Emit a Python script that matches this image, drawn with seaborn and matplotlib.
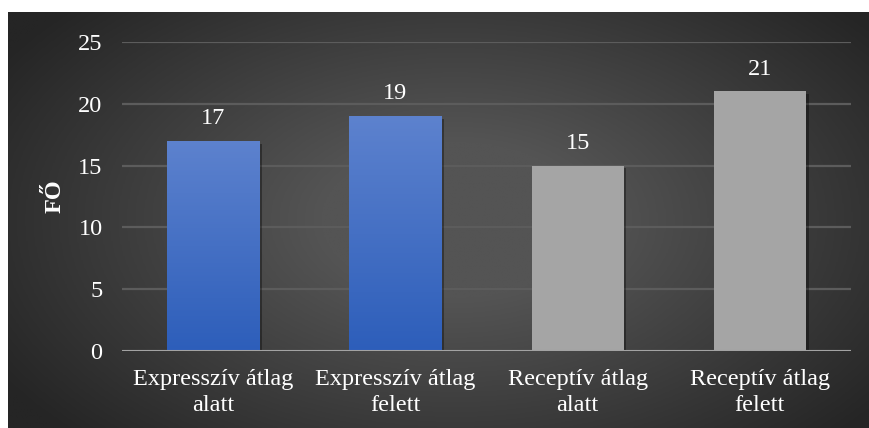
import numpy as np
import pandas as pd
import matplotlib
matplotlib.use("Agg")
import matplotlib.pyplot as plt
import matplotlib.patheffects as pe
from matplotlib.colors import LinearSegmentedColormap
import seaborn as sns

categories = ["Expresszív átlag\nalatt", "Expresszív átlag\nfelett",
              "Receptív átlag\nalatt", "Receptív átlag\nfelett"]
values = [17, 19, 15, 21]
groups = ["expr", "expr", "rec", "rec"]
y_ticks = [0, 5, 10, 15, 20, 25]
y_label = "FŐ"

sns.set_theme(style="white")
plt.rcParams["font.family"] = ["Liberation Serif", "DejaVu Serif"]

W, H = 869, 428
fig = plt.figure(figsize=(W / 100, H / 100), dpi=100)
fig.patch.set_facecolor("white")

# Dark radial-gradient backdrop
bg = fig.add_axes([8 / W, 0, (W - 8) / W, (H - 12) / H])
bg.set_axis_off()
yy, xx = np.mgrid[0:1:300j, 0:1:600j]
r = np.sqrt(((xx - 0.52) / 0.62) ** 2 + ((yy - 0.5) / 0.75) ** 2)
shade = np.clip(1 - r, 0, 1)
bg_cmap = LinearSegmentedColormap.from_list("bg", ["#252525", "#545454"])
bg.imshow(shade, cmap=bg_cmap, aspect="auto", extent=[0, 1, 0, 1],
          vmin=0, vmax=0.75, interpolation="bilinear")
bg.set_xlim(0, 1)
bg.set_ylim(0, 1)

ax = fig.add_axes([122 / W, 1 - 351 / H, (851 - 122) / W, (351 - 42) / H])
ax.patch.set_alpha(0)

df = pd.DataFrame({"cat": categories, "val": values, "grp": groups})
sns.barplot(data=df, x="cat", y="val", hue="grp",
            palette={"expr": "#4472c4", "rec": "#a5a5a5"},
            width=0.505, dodge=False, legend=False, ax=ax, zorder=3)

ax.set_ylim(0, 25)
ax.set_xlim(-0.5, 3.5)
ax.set_yticks(y_ticks)
ax.yaxis.grid(True, color="#5c5c5c", linewidth=1.6, zorder=0)
ax.set_axisbelow(True)
for s in ax.spines.values():
    s.set_visible(False)
ax.axhline(0, color="#a3a3a3", linewidth=2.2, zorder=5)

blue_cmap = LinearSegmentedColormap.from_list("blue", ["#2d5eba", "#5d82ce"])
grad = np.linspace(0, 1, 256).reshape(-1, 1)
for patch, grp in zip(ax.patches, groups):
    patch.set_edgecolor("none")
    patch.set_path_effects([pe.SimplePatchShadow(offset=(2, -2), alpha=0.35,
                                                 shadow_rgbFace="black"),
                            pe.Normal()])
    if grp == "expr":
        x0, y0 = patch.get_x(), patch.get_y()
        w, h = patch.get_width(), patch.get_height()
        im = ax.imshow(grad, cmap=blue_cmap, origin="lower", aspect="auto",
                       extent=[x0, x0 + w, y0, y0 + h], zorder=4,
                       interpolation="bilinear")
        im.set_clip_path(patch)

for i, v in enumerate(values):
    ax.annotate(f"{v}", (i, v), xytext=(0, 8.5), textcoords="offset points",
                ha="center", va="bottom", color="white", fontsize=17.5)

ax.tick_params(axis="both", length=0, colors="white", labelsize=17.5)
ax.tick_params(axis="y", pad=14)
ax.tick_params(axis="x", pad=13)
for lbl in ax.get_xticklabels():
    lbl.set_linespacing(1.3)
ax.set_xlabel("")
ax.set_ylabel(y_label, color="white", fontsize=17.5, fontweight="bold")
ax.yaxis.set_label_coords(-0.078, 0.5)

fig.savefig("out.png", dpi=100)
